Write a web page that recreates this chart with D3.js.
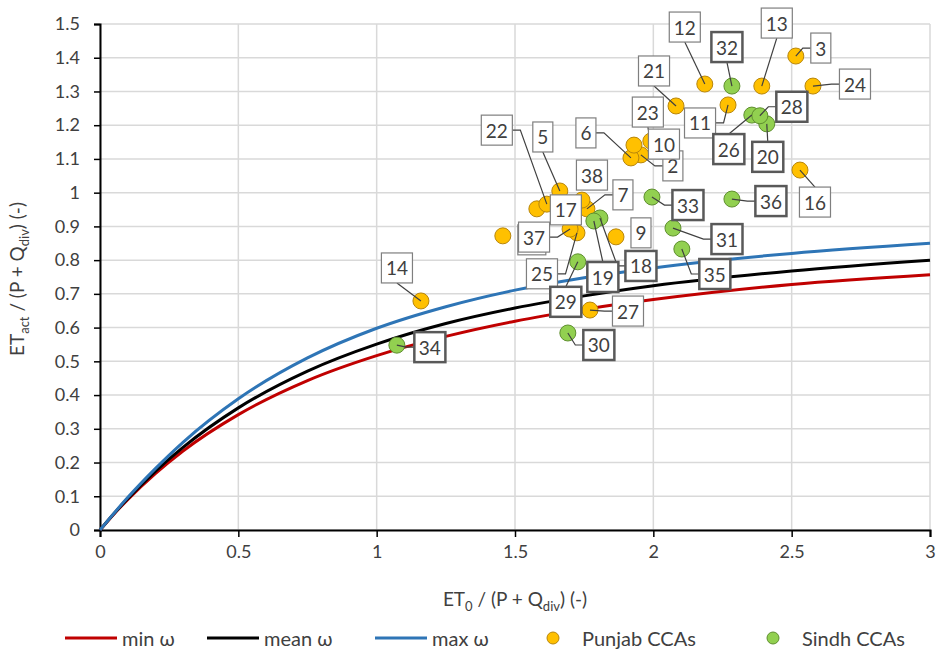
<!DOCTYPE html>
<html>
<head>
<meta charset="utf-8">
<script src="https://cdn.jsdelivr.net/npm/d3@7/dist/d3.min.js"></script>
<style>
  body { margin: 0; background: #fff; }
  svg text { font-family: Lato, "Open Sans", "DejaVu Sans", sans-serif; fill: #404040; }
</style>
</head>
<body>
<div id="chart"></div>
<script>
// Budyko-type curves
var phi      = [0, 0.05, 0.1, 0.2, 0.3, 0.5, 0.75, 1, 1.25, 1.5, 1.75, 2, 2.5, 3];
var minOmega = [0, 0.047, 0.090, 0.167, 0.234, 0.342, 0.443, 0.517, 0.574, 0.619, 0.654, 0.683, 0.728, 0.757];
var meanOmega= [0, 0.048, 0.093, 0.174, 0.245, 0.362, 0.471, 0.551, 0.612, 0.658, 0.694, 0.724, 0.768, 0.800];
var maxOmega = [0, 0.049, 0.096, 0.182, 0.260, 0.389, 0.510, 0.598, 0.662, 0.711, 0.748, 0.777, 0.820, 0.850];

// CCAs
var punjabIds = ["", "14", "2", "3", "5", "6", "7", "9", "10", "11", "12", "13", "16", "17", "21", "22", "23", "24", "25", "27", "37", "38"];
var punjabX   = [1.456, 1.160, 1.955, 2.515, 1.662, 1.919, 1.760, 1.865, 1.930, 2.270, 2.186, 2.392, 2.530, 1.579, 2.082, 1.615, 1.991, 2.577, 1.724, 1.771, 1.699, 1.742];
var punjabY   = [0.872, 0.679, 1.112, 1.405, 1.005, 1.103, 0.952, 0.869, 1.141, 1.260, 1.322, 1.316, 1.067, 0.952, 1.257, 0.966, 1.153, 1.316, 0.881, 0.652, 0.892, 0.978];

var sindhIds = ["18", "19", "20", "26", "28", "29", "30", "31", "32", "33", "34", "35", "36"];
var sindhX   = [1.807, 1.785, 2.410, 2.356, 2.385, 1.727, 1.691, 2.071, 2.284, 1.995, 1.073, 2.103, 2.284];
var sindhY   = [0.925, 0.916, 1.204, 1.230, 1.228, 0.795, 0.584, 0.895, 1.316, 0.987, 0.548, 0.833, 0.981];

var xTickValues = [0, 0.5, 1, 1.5, 2, 2.5, 3];
var legendNames = ["min ω", "mean ω", "max ω", "Punjab CCAs", "Sindh CCAs"];

// label placement: pixel offset of box centre from the point, and side the leader leaves from
var labelPos = {
  "": [29, 4, ""], "14": [-24, -33, "b"], "2": [32, 11, "l"], "3": [25, -8, "l"], "5": [-17, -54, "b"],
  "6": [-45, -25, "r"], "7": [36, -14, "l"], "9": [25, -4, ""], "10": [30, -1, ""],
  "11": [-28, 18, "r"], "12": [-20, -57, "b"], "13": [15, -63, "b"], "16": [15, 32, "t"],
  "17": [29, 1, ""], "21": [-22, -35, "b"], "22": [-50, -74, "r"], "23": [-3, -29, "b"],
  "24": [42, -2, "l"], "25": [-35, 41, "r"], "27": [38, 1, "l"], "37": [-36, 8, "r"], "38": [10, -25, ""],
  "18": [41, 48, "l"], "19": [9, 56, "t"], "20": [1, 33, "t"], "26": [-23, 34, "t"], "28": [32, -9, "l"],
  "29": [-12, 40, "t"], "30": [31, 12, "l"], "31": [54, 11, "l"], "32": [-5, -39, "b"], "33": [36, 8, "l"],
  "34": [33, 2, "l"], "35": [33, 25, "l"], "36": [39, 2, "l"]
};

var width = 936, height = 655;
var margin = {left: 100, right: 6, top: 24, bottom: 125};

var svg = d3.select("#chart").append("svg")
    .attr("width", width)
    .attr("height", height);

var x = d3.scaleLinear().domain([0, 3]).range([margin.left, width - margin.right]);
var y = d3.scaleLinear().domain([0, 1.5]).range([height - margin.bottom, margin.top]);

// grid
svg.append("g")
  .attr("stroke", "#d9d9d9")
  .attr("stroke-width", 1.5)
  .call(g => g.selectAll(".h").data(y.ticks(15)).join("line")
    .attr("x1", x(0)).attr("x2", x(3))
    .attr("y1", d => y(d)).attr("y2", d => y(d)))
  .call(g => g.selectAll(".v").data(xTickValues).join("line")
    .attr("y1", y(0)).attr("y2", y(1.5))
    .attr("x1", d => x(d)).attr("x2", d => x(d)));

// axes
var xAxis = svg.append("g")
  .attr("transform", `translate(0,${y(0)})`)
  .call(d3.axisBottom(x).tickValues(xTickValues).tickSize(7).tickPadding(8).tickFormat(d3.format("")));
var yAxis = svg.append("g")
  .attr("transform", `translate(${x(0)},0)`)
  .call(d3.axisLeft(y).ticks(15).tickSize(6).tickPadding(14).tickFormat(d3.format("")));

[xAxis, yAxis].forEach(a => {
  a.select(".domain").attr("stroke", "#000").attr("stroke-width", 2);
  a.selectAll(".tick line").attr("stroke", "#000").attr("stroke-width", 1.5);
  a.selectAll(".tick text").attr("font-size", 18).attr("fill", "#404040")
    .style("font-family", "Lato, sans-serif");
});

// curves
var line = d3.line().x((d, i) => x(phi[i])).y(d => y(d)).curve(d3.curveMonotoneX);
var curves = [
  {values: minOmega, color: "#c00000"},
  {values: meanOmega, color: "#000000"},
  {values: maxOmega, color: "#2e75b6"}
];
svg.append("g").selectAll("path")
  .data(curves)
  .join("path")
  .attr("fill", "none")
  .attr("stroke", d => d.color)
  .attr("stroke-width", 3)
  .attr("d", d => line(d.values));

// points
var punjab = punjabIds.map((id, i) => ({id: id, x: punjabX[i], y: punjabY[i], group: "p"}));
var sindh = sindhIds.map((id, i) => ({id: id, x: sindhX[i], y: sindhY[i], group: "s"}));
var fills = {p: "#ffc000", s: "#92d050"};
var strokes = {p: "#b8860b", s: "#5f8f2f"};

svg.append("g").selectAll("circle")
  .data(punjab.concat(sindh))
  .join("circle")
  .attr("cx", d => x(d.x))
  .attr("cy", d => y(d.y))
  .attr("r", 8)
  .attr("fill", d => fills[d.group])
  .attr("stroke", d => strokes[d.group])
  .attr("stroke-width", 1);

// data labels with leader lines
var labels = svg.append("g");
var leaders = labels.append("g").attr("stroke", "#404040").attr("stroke-width", 1.2).attr("fill", "none");
var boxes = labels.append("g");

punjab.concat(sindh).forEach(d => {
  var pos = labelPos[d.id];
  var px = x(d.x), py = y(d.y);
  var cx = px + pos[0], cy = py + pos[1];
  var g = boxes.append("g");
  var rect = g.append("rect");
  var t = g.append("text")
    .attr("x", cx).attr("y", cy)
    .attr("text-anchor", "middle")
    .attr("dominant-baseline", "central")
    .attr("font-size", 19)
    .attr("fill", "#262626")
    .text(d.id);
  var w = Math.max(d.id ? t.node().getComputedTextLength() + 9 : 28, 18), h = 30;
  rect.attr("x", cx - w / 2).attr("y", cy - h / 2).attr("width", w).attr("height", h)
    .attr("fill", "#fff")
    .attr("stroke", d.group == "s" ? "#595959" : "#7f7f7f")
    .attr("stroke-width", d.group == "s" ? 2.5 : 1.2);

  var side = pos[2], pts;
  if (side == "l") pts = [[cx - w / 2, cy], [cx - w / 2 - 8, cy], [px, py]];
  else if (side == "r") pts = [[cx + w / 2, cy], [cx + w / 2 + 8, cy], [px, py]];
  else if (side == "t") pts = [[cx, cy - h / 2], [px, py]];
  else if (side == "b") pts = [[cx, cy + h / 2], [px, py]];
  if (pts) leaders.append("path").attr("d", d3.line()(pts));
});

// axis titles
var yTitle = svg.append("text")
  .attr("transform", `translate(24,${y(0.75) + 2}) rotate(-90)`)
  .attr("text-anchor", "middle")
  .attr("font-size", 19);
yTitle.append("tspan").text("ET");
yTitle.append("tspan").attr("font-size", 13).attr("dy", 5).text("act");
yTitle.append("tspan").attr("dy", -5).text(" / (P + Q");
yTitle.append("tspan").attr("font-size", 13).attr("dy", 5).text("div");
yTitle.append("tspan").attr("dy", -5).text(") (-)");

var xTitle = svg.append("text")
  .attr("x", x(1.5))
  .attr("y", 606)
  .attr("text-anchor", "middle")
  .attr("font-size", 19);
xTitle.append("tspan").text("ET");
xTitle.append("tspan").attr("font-size", 13).attr("dy", 5).text("0");
xTitle.append("tspan").attr("dy", -5).text(" / (P + Q");
xTitle.append("tspan").attr("font-size", 13).attr("dy", 5).text("div");
xTitle.append("tspan").attr("dy", -5).text(") (-)");

// legend
var legendY = 638;
var legendItems = [
  {name: legendNames[0], type: "line", color: "#c00000", x0: 65},
  {name: legendNames[1], type: "line", color: "#000000", x0: 207},
  {name: legendNames[2], type: "line", color: "#2e75b6", x0: 375},
  {name: legendNames[3], type: "dot", group: "p", x0: 547},
  {name: legendNames[4], type: "dot", group: "s", x0: 767}
];
var legend = svg.append("g");
legendItems.forEach(it => {
  if (it.type == "line") {
    legend.append("line")
      .attr("x1", it.x0).attr("x2", it.x0 + 52)
      .attr("y1", legendY).attr("y2", legendY)
      .attr("stroke", it.color).attr("stroke-width", 3);
    legend.append("text").attr("x", it.x0 + 57).attr("y", legendY)
      .attr("dominant-baseline", "central").attr("font-size", 20).text(it.name);
  } else {
    legend.append("circle")
      .attr("cx", it.x0 + 6).attr("cy", legendY).attr("r", 6)
      .attr("fill", fills[it.group]).attr("stroke", strokes[it.group]);
    legend.append("text").attr("x", it.x0 + 35).attr("y", legendY)
      .attr("dominant-baseline", "central").attr("font-size", 20).text(it.name);
  }
});
</script>
</body>
</html>
